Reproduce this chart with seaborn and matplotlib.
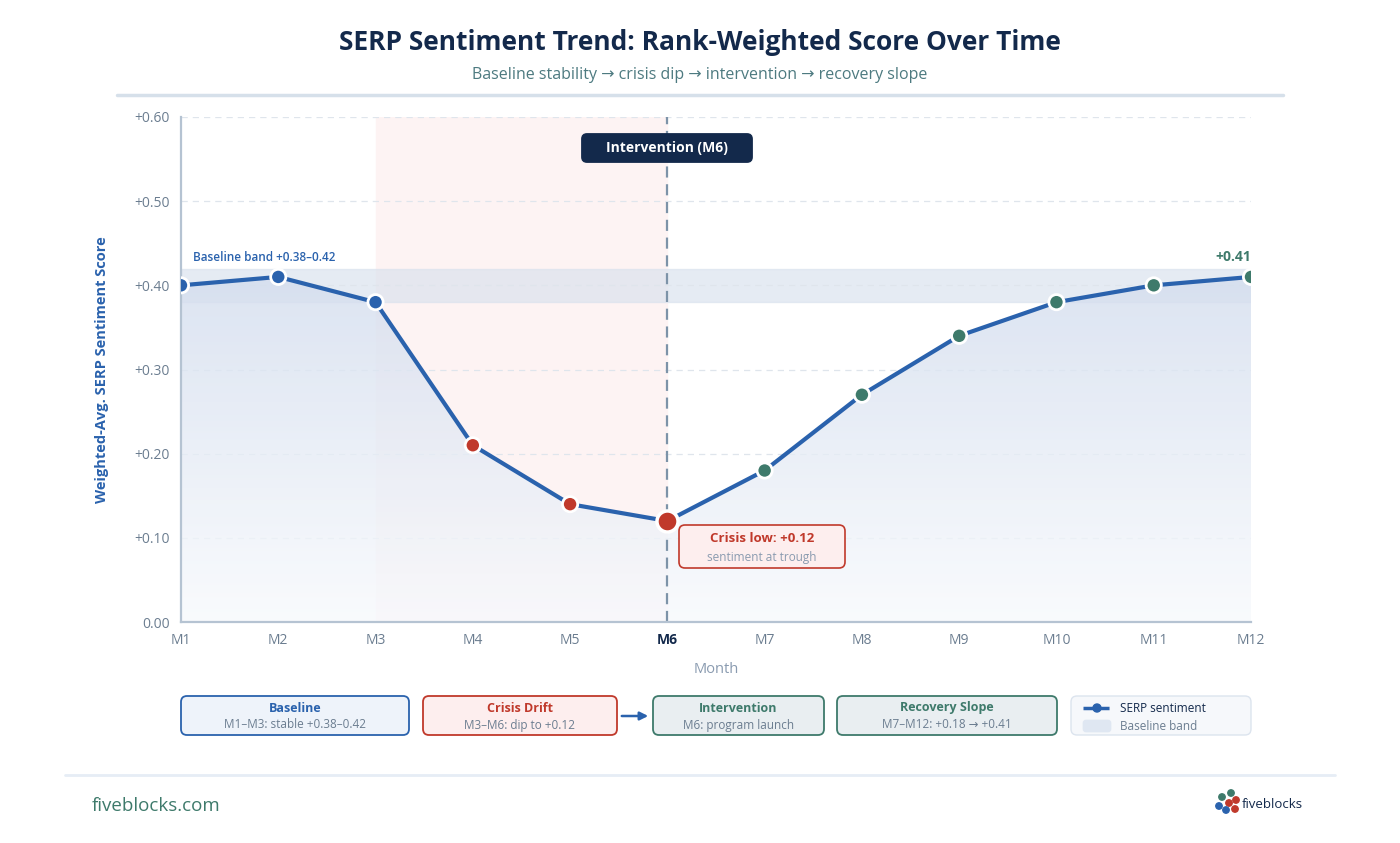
import numpy as np
import pandas as pd
import matplotlib.pyplot as plt
import seaborn as sns
from matplotlib.patches import FancyBboxPatch, Circle
from matplotlib.colors import LinearSegmentedColormap

# data
months = ["M1", "M2", "M3", "M4", "M5", "M6", "M7", "M8", "M9", "M10", "M11", "M12"]
sentiment = [0.40, 0.41, 0.38, 0.21, 0.14, 0.12, 0.18, 0.27, 0.34, 0.38, 0.40, 0.41]
phase = ["Baseline"] * 3 + ["Crisis"] * 3 + ["Recovery"] * 6
y_ticks = [0.0, 0.1, 0.2, 0.3, 0.4, 0.5, 0.6]
y_tick_labels = ["0.00", "+0.10", "+0.20", "+0.30", "+0.40", "+0.50", "+0.60"]
band_low, band_high = 0.38, 0.42

NAVY = "#13294b"
BLUE = "#2a62ad"
RED = "#c0392b"
GREEN = "#3e7a6b"
GREY = "#6b7d90"

sns.set_theme(style="white")
plt.rcParams["font.family"] = ["Open Sans", "DejaVu Sans"]

df = pd.DataFrame({"x": np.arange(len(months)), "month": months,
                   "score": sentiment, "phase": phase})

fig = plt.figure(figsize=(14, 8.43), dpi=100)
ax = fig.add_axes([181 / 1400, 1 - 622 / 843, (1251 - 181) / 1400, (622 - 117) / 843])

# shaded regions
ax.axvspan(2, 5, color="#fdf3f3", zorder=0)
ax.axhspan(band_low, band_high, color="#dbe3ee", alpha=0.7, zorder=1)

# gradient area under the line
fill = ax.fill_between(df["x"], df["score"], 0, color="none")
grad = np.linspace(1, 0, 256).reshape(-1, 1)
cmap = LinearSegmentedColormap.from_list("g", ["#f8fafd", "#d3ddee"])
img = ax.imshow(grad, extent=[0, 11, 0, 0.42], aspect="auto", cmap=cmap,
                alpha=0.8, zorder=1.5, origin="upper")
img.set_clip_path(fill.get_paths()[0], transform=ax.transData)

for y in y_ticks[1:]:
    ax.axhline(y, color="#dfe5ec", lw=0.9, ls=(0, (5, 4)), zorder=1.2)

# intervention line
ax.axvline(5, color="#7d93a8", lw=1.6, ls=(0, (5, 3)), zorder=2)

sns.lineplot(data=df, x="x", y="score", color=BLUE, lw=3, ax=ax, zorder=3)
small = df[df["month"] != "M6"]
sns.scatterplot(data=small, x="x", y="score", hue="phase",
                palette={"Baseline": BLUE, "Crisis": RED, "Recovery": GREEN},
                s=120, edgecolor="white", linewidth=2, ax=ax, zorder=4, legend=False)
trough = df[df["month"] == "M6"]
sns.scatterplot(data=trough, x="x", y="score", color=RED, s=230,
                edgecolor="white", linewidth=2.5, ax=ax, zorder=5, legend=False)

ax.set_xlim(0, 11)
ax.set_ylim(0, 0.6)
ax.set_xticks(df["x"])
ax.set_xticklabels(months)
ax.set_yticks(y_ticks)
ax.set_yticklabels(y_tick_labels)
ax.tick_params(axis="both", colors=GREY, labelsize=10, length=0, pad=8)
for lab in ax.get_xticklabels():
    if lab.get_text() == "M6":
        lab.set_fontweight("bold")
        lab.set_color(NAVY)
for s in ["top", "right"]:
    ax.spines[s].set_visible(False)
for s in ["left", "bottom"]:
    ax.spines[s].set_color("#b5c3d2")
    ax.spines[s].set_linewidth(1.6)
ax.set_xlabel("Month", color="#8a9bb0", fontsize=10.5, labelpad=10)
ax.set_ylabel("Weighted-Avg. SERP Sentiment Score", color=BLUE, fontsize=10.5,
              fontweight="bold", labelpad=18)

ax.text(0.12, 0.425, "Baseline band +0.38\u20130.42", color=BLUE, fontsize=8.5,
        fontweight="semibold", va="bottom")
ax.text(11, 0.425, "+0.41", color=GREEN, fontsize=10, fontweight="bold",
        ha="right", va="bottom")

# overlay in pixel coordinates for boxes and header/footer
ov = fig.add_axes([0, 0, 1, 1], zorder=10)
ov.set_xlim(0, 1400)
ov.set_ylim(843, 0)
ov.axis("off")


def box(x0, y0, x1, y1, fc, ec, lw=1.3, r=6):
    ov.add_patch(FancyBboxPatch((x0, y0), x1 - x0, y1 - y0,
                                boxstyle=f"round,pad=0,rounding_size={r}",
                                fc=fc, ec=ec, lw=lw))


ov.text(700, 43, "SERP Sentiment Trend: Rank-Weighted Score Over Time", ha="center",
        va="center", fontsize=19, fontweight="bold", color=NAVY)
ov.text(700, 75, "Baseline stability \u2192 crisis dip \u2192 intervention \u2192 recovery slope",
        ha="center", va="center", fontsize=11.5, color="#4d7a80")
ov.plot([117, 1283], [95, 95], color="#d6e0ea", lw=2.5)

# intervention badge
box(582, 134, 752, 162, NAVY, NAVY, r=5)
ov.text(667, 148, "Intervention (M6)", ha="center", va="center", color="white",
        fontsize=10, fontweight="bold")

# crisis low callout
box(679, 525, 845, 568, "#fdeeee", RED, lw=1.2)
ov.text(762, 539, "Crisis low: +0.12", ha="center", va="center", color=RED,
        fontsize=9.5, fontweight="bold")
ov.text(762, 557, "sentiment at trough", ha="center", va="center", color="#8a9bb0",
        fontsize=8.5)

# phase boxes
phases = [
    (181, 409, "#eef3fa", BLUE, "Baseline", "M1\u2013M3: stable +0.38\u20130.42", BLUE),
    (423, 617, "#fdeeee", RED, "Crisis Drift", "M3\u2013M6: dip to +0.12", RED),
    (653, 824, "#e9eef1", GREEN, "Intervention", "M6: program launch", GREEN),
    (837, 1057, "#e9eef1", GREEN, "Recovery Slope", "M7\u2013M12: +0.18 \u2192 +0.41", GREEN),
]
for x0, x1, fc, ec, head, sub, tc in phases:
    box(x0, 696, x1, 735, fc, ec)
    ov.text((x0 + x1) / 2, 708, head, ha="center", va="center", color=tc,
            fontsize=9, fontweight="bold")
    ov.text((x0 + x1) / 2, 725, sub, ha="center", va="center", color=GREY, fontsize=8.5)
ov.annotate("", xy=(651, 716), xytext=(619, 716),
            arrowprops=dict(arrowstyle="-|>", color=BLUE, lw=1.8, mutation_scale=12))

# legend box
box(1071, 696, 1251, 735, "#f6f8fb", "#dce4ee", lw=1.0)
ov.plot([1083, 1111], [708, 708], color=BLUE, lw=2.5, ls=(0, (3, 1.5)))
ov.add_patch(Circle((1097, 708), 4, color=BLUE))
ov.text(1120, 709, "SERP sentiment", va="center", color=NAVY, fontsize=8.5)
box(1083, 720, 1111, 732, "#dfe7f2", "#dfe7f2", lw=0.5, r=3)
ov.text(1120, 726, "Baseline band", va="center", color=GREY, fontsize=8.5)

# footer
ov.plot([65, 1335], [775, 775], color="#e6edf5", lw=2)
ov.text(92, 806, "fiveblocks.com", va="center", color=GREEN, fontsize=13.5,
        fontweight="medium")
for cx, cy, c in [(1222, 797, GREEN), (1231, 793, GREEN), (1229, 803, RED),
                  (1236, 800, RED), (1219, 806, BLUE), (1226, 810, BLUE), (1235, 809, RED)]:
    ov.add_patch(Circle((cx, cy), 3.2, color=c))
ov.text(1242, 804, "fiveblocks", va="center", color=NAVY, fontsize=9.5)

fig.savefig("out.png", dpi=100, facecolor="white")
